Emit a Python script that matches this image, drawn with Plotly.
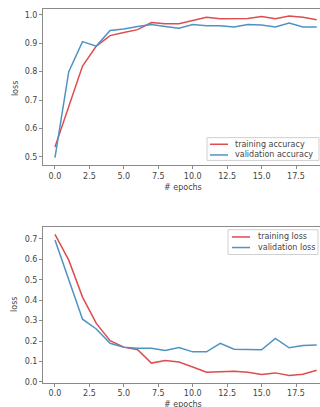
import plotly.graph_objects as go

epochs = list(range(20))
train_acc = [0.535, 0.68, 0.82, 0.89, 0.927, 0.938, 0.948, 0.973, 0.969, 0.969,
             0.98, 0.992, 0.986, 0.987, 0.987, 0.994, 0.986, 0.996, 0.992, 0.983]
val_acc = [0.497, 0.80, 0.906, 0.89, 0.945, 0.95, 0.959, 0.966, 0.959, 0.953,
           0.966, 0.962, 0.962, 0.957, 0.966, 0.964, 0.957, 0.971, 0.957, 0.957]
train_loss = [0.722, 0.596, 0.415, 0.286, 0.202, 0.17, 0.157, 0.092, 0.105, 0.097,
              0.073, 0.047, 0.05, 0.052, 0.047, 0.036, 0.044, 0.031, 0.037, 0.057]
val_loss = [0.694, 0.50, 0.307, 0.259, 0.189, 0.17, 0.165, 0.165, 0.154, 0.168,
            0.147, 0.147, 0.189, 0.16, 0.16, 0.157, 0.213, 0.167, 0.178, 0.181]

acc_ticks = [0.5, 0.6, 0.7, 0.8, 0.9, 1.0]
loss_ticks = [0.0, 0.1, 0.2, 0.3, 0.4, 0.5, 0.6, 0.7]
x_ticks = [0.0, 2.5, 5.0, 7.5, 10.0, 12.5, 15.0, 17.5]
acc_names = ["training accuracy", "validation accuracy"]
loss_names = ["training loss", "validation loss"]

RED = "#dd4d4f"
BLUE = "#4f93c3"
W, H = 320, 407
FONT = "DejaVu Sans"
TXT = "#444444"
FRAME = "#8a8a8a"

fig = go.Figure()
fig.add_trace(go.Scatter(x=epochs, y=train_acc, mode="lines", name=acc_names[0],
                         line=dict(color=RED, width=1.5), xaxis="x", yaxis="y"))
fig.add_trace(go.Scatter(x=epochs, y=val_acc, mode="lines", name=acc_names[1],
                         line=dict(color=BLUE, width=1.5), xaxis="x", yaxis="y"))
fig.add_trace(go.Scatter(x=epochs, y=train_loss, mode="lines", name=loss_names[0],
                         line=dict(color=RED, width=1.5), xaxis="x2", yaxis="y2"))
fig.add_trace(go.Scatter(x=epochs, y=val_loss, mode="lines", name=loss_names[1],
                         line=dict(color=BLUE, width=1.5), xaxis="x2", yaxis="y2"))

xl = 43 / W
xr = [-0.87, 19.24]
common_x = dict(range=xr, tickvals=x_ticks, ticktext=[f"{v:.1f}" for v in x_ticks],
                showline=True, linecolor=FRAME, linewidth=1, mirror=True,
                ticks="outside", ticklen=3, tickcolor=FRAME, showgrid=False, zeroline=False,
                tickfont=dict(family=FONT, size=8, color=TXT), domain=[xl, 1.0])
common_y = dict(showline=True, linecolor=FRAME, linewidth=1, mirror=False,
                ticks="outside", ticklen=3, tickcolor=FRAME, showgrid=False, zeroline=False,
                tickfont=dict(family=FONT, size=8, color=TXT))


def px(x):
    return x / W


def py(y):
    return 1 - y / H


shapes = []
annotations = []


def add_legend(box, sample_x, rows, text_x, names, colors):
    x0, y0, x1, y1 = box
    shapes.append(dict(type="rect", xref="paper", yref="paper",
                       x0=px(x0), x1=px(x1), y0=py(y1), y1=py(y0),
                       line=dict(color="#d0d0d0", width=1), fillcolor="white", layer="above"))
    for ry, name, col in zip(rows, names, colors):
        shapes.append(dict(type="line", xref="paper", yref="paper",
                           x0=px(sample_x[0]), x1=px(sample_x[1]), y0=py(ry), y1=py(ry),
                           line=dict(color=col, width=1.5), layer="above"))
        annotations.append(dict(text=name, x=px(text_x), y=py(ry), xref="paper", yref="paper",
                                showarrow=False, xanchor="left", yanchor="middle",
                                font=dict(family=FONT, size=8, color=TXT)))


add_legend((207, 139, 319, 162), (210, 228), (145.7, 156.5), 233, acc_names, [RED, BLUE])
add_legend((228, 232, 318, 257), (232, 250), (239.3, 250), 256, loss_names, [RED, BLUE])

for ty in (189, 409):
    annotations.append(dict(text="# epochs", x=px(183), y=py(ty), xref="paper", yref="paper",
                            showarrow=False, font=dict(family=FONT, size=8, color=TXT),
                            xanchor="center", yanchor="middle"))
for ty in (90, 308):
    annotations.append(dict(text="loss", x=px(15), y=py(ty), xref="paper", yref="paper",
                            showarrow=False, textangle=-90,
                            font=dict(family=FONT, size=8, color=TXT),
                            xanchor="center", yanchor="middle"))

fig.update_layout(
    width=W, height=H, margin=dict(l=0, r=0, t=0, b=0),
    paper_bgcolor="white", plot_bgcolor="white",
    xaxis=dict(**common_x, anchor="y"),
    yaxis=dict(**common_y, range=[0.471, 1.02], tickvals=acc_ticks,
               ticktext=[f"{v:.1f}" for v in acc_ticks], anchor="x",
               domain=[py(166.7), py(9.3)]),
    xaxis2=dict(**common_x, anchor="y2"),
    yaxis2=dict(**common_y, range=[-0.005, 0.758], tickvals=loss_ticks,
                ticktext=[f"{v:.1f}" for v in loss_ticks], anchor="x2",
                domain=[py(386.7), py(229.3)]),
    showlegend=False,
    shapes=shapes,
    annotations=annotations,
)

fig.write_html(
    "out.html",
    config={"displayModeBar": False},
    post_script="document.body.style.margin='0';document.body.style.padding='0';"
                "document.body.style.overflow='hidden';"
                "document.documentElement.style.overflow='hidden';",
)
